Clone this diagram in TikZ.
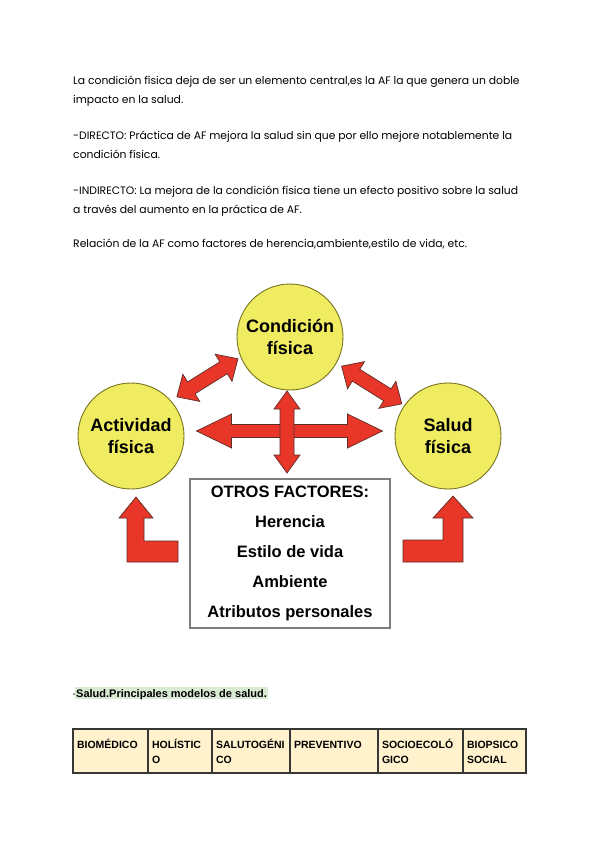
\documentclass[tikz,border=0pt]{standalone}
\usepackage{fontspec}
\setmainfont{Poppins}
\newfontfamily\arialf{Liberation Sans}
\usepackage{xcolor}
\usepackage{tikz}
\usetikzlibrary{positioning,calc}
\definecolor{arrowred}{RGB}{232,54,40}
\definecolor{arrowline}{RGB}{95,45,40}
\definecolor{ballin}{RGB}{240,236,98}
\definecolor{ballout}{RGB}{200,194,42}
\definecolor{balledge}{RGB}{120,115,30}
\definecolor{hilite}{RGB}{217,234,211}
\definecolor{cellfill}{RGB}{255,242,204}
\definecolor{cellline}{RGB}{55,55,55}
\definecolor{boxline}{RGB}{125,125,125}
\pgfdeclareradialshading{yellowball}{\pgfpoint{0bp}{0bp}}{color(0bp)=(ballin); color(30bp)=(ballin); color(50bp)=(ballout)}

\begin{document}
\begin{tikzpicture}[
  x=1pt, y=-1pt,
  font=\fontsize{10.8}{19}\selectfont,
  para/.style={anchor=base west, inner sep=0pt, align=left},
  ball/.style={circle, minimum size=106pt, inner sep=0pt, draw=balledge, line width=0.9pt,
    shading=yellowball, align=center, font=\arialf\bfseries\fontsize{18}{22}\selectfont},
  factbox/.style={draw=boxline, line width=1.2pt, fill=white, minimum width=200pt, minimum height=149pt,
    align=center, font=\arialf\bfseries\fontsize{16.5}{30}\selectfont},
  redarrow/.style={fill=arrowred, draw=arrowline, line width=0.7pt, line join=miter},
  blockarrow/.style n args={6}{to path={
    let \p1=(\tikztostart), \p2=(\tikztotarget), \n1={atan2(\y2-\y1,\x2-\x1)} in
    {[shift={($(\p1)!0.5!(\p2)$)}, rotate=\n1, shift={(#5,#6)}]
      ({-#1/2},0pt) -- ({-#1/2+#4},#3) -- ({-#1/2+#4},#2) -- ({#1/2-#4},#2) -- ({#1/2-#4},#3)
      -- ({#1/2},0pt) -- ({#1/2-#4},-#3) -- ({#1/2-#4},-#2) -- ({-#1/2+#4},-#2) -- ({-#1/2+#4},-#3) -- cycle}}},
  cell/.style={draw=cellline, line width=1.3pt, fill=cellfill, outer sep=0pt, inner xsep=4pt, inner ysep=8pt,
    text width=#1, text height=11pt, text depth=17pt, align=left,
    font=\arialf\bfseries\fontsize{10.5}{15}\selectfont}]

\fill[white] (0,0) rectangle (600,848);
\useasboundingbox (0,0) rectangle (600,848);

% text above the figure (base = last line)
\node[para] (intro) at (73,103.5) {La condición física deja de ser un elemento central,es la AF la que genera un doble\\impacto en la salud.};
\node[para] (directo) at (73,158.5) {-DIRECTO: Práctica de AF mejora la salud sin que por ello mejore notablemente la\\condición física.};
\node[para] (indirecto) at (73,213.5) {-INDIRECTO: La mejora de la condición física tiene un efecto positivo sobre la salud\\a través del aumento en la práctica de AF.};
\node[para] (relacion) at (73,247) {Relación de la AF como factores de herencia,ambiente,estilo de vida, etc.};

% circles and box
\node[ball] (cond) at (290,337) {Condición\\física};
\node[ball] (act) at (131,436) {Actividad\\física};
\node[ball] (sal) at (448,436) {Salud\\física};
\node[factbox] (otros) at (290,553.5) {OTROS FACTORES:\\Herencia\\Estilo de vida\\Ambiente\\Atributos personales};

% block arrows
\draw[redarrow] (act) to[blockarrow={186pt}{6.5pt}{17pt}{35pt}{0pt}{5pt}] (sal);
\draw[redarrow] (cond) to[blockarrow={82pt}{7pt}{13pt}{18pt}{-13.25pt}{-3pt}] (otros);
\draw[redarrow] (act) to[blockarrow={72pt}{7pt}{16pt}{17pt}{2pt}{9pt}] (cond);
\draw[redarrow] (cond) to[blockarrow={71pt}{7pt}{16pt}{17pt}{1.5pt}{2.7pt}] (sal);
\draw[redarrow] (127,562) -- (178,562) -- (178,541) -- (144,541) -- (144,518) -- (153,518) -- (136,497) -- (119,518) -- (127,518) -- cycle;
\draw[redarrow] (463,562) -- (403,562) -- (403,540) -- (443,540) -- (443,518) -- (433,518) -- (453,496) -- (473,518) -- (463,518) -- cycle;

% heading
\node[anchor=base west, inner sep=0pt, font=\arialf\fontsize{11}{13}\selectfont] (guion) at (72.5,697) {-};
\node[anchor=base west, fill=hilite, inner xsep=1pt, inner ysep=0pt, text height=10pt, text depth=2pt,
  font=\arialf\bfseries\fontsize{11}{13}\selectfont] (modelos) at (75,697) {Salud.Principales modelos de salud.};

% table
\node[cell=67pt, anchor=north west] (biomedico) at (73,729) {BIOMÉDICO};
\node[cell=56pt, right=0pt of biomedico] (holistico) {HOLÍSTIC\\O};
\node[cell=70pt, right=0pt of holistico] (salutogenico) {SALUTOGÉNI\\CO};
\node[cell=80pt, right=0pt of salutogenico] (preventivo) {PREVENTIVO};
\node[cell=77pt, right=0pt of preventivo] (socioecologico) {SOCIOECOLÓ\\GICO};
\node[cell=55pt, right=0pt of socioecologico] (biopsicosocial) {BIOPSICO\\SOCIAL};
\end{tikzpicture}
\end{document}
